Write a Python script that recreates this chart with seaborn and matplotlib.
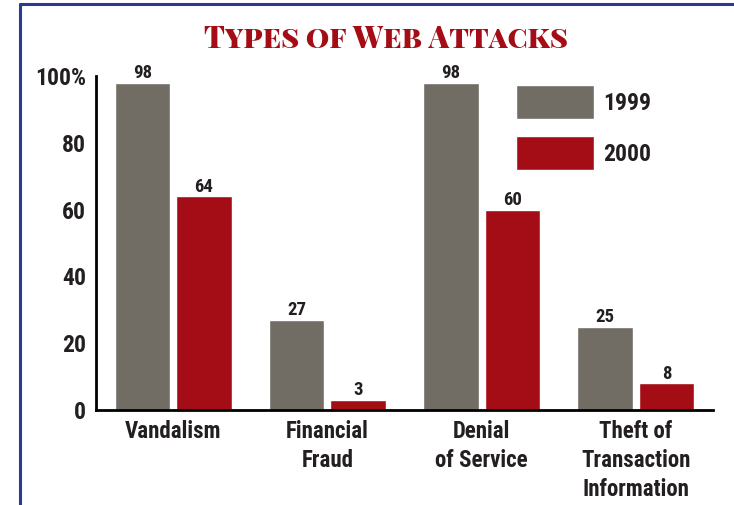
import matplotlib
matplotlib.use("Agg")
import matplotlib.pyplot as plt
from matplotlib import font_manager as fm
from matplotlib.lines import Line2D
import seaborn as sns
import pandas as pd

# Survey results: share of sites reporting each attack type
categories = ["Vandalism", "Financial\nFraud", "Denial\nof Service",
              "Theft of\nTransaction\nInformation"]
years = ["1999", "2000"]
pct_1999 = [98, 27, 98, 25]
pct_2000 = [64, 3, 60, 8]
ytick_values = [0, 20, 40, 60, 80, 100]
ytick_labels = ["0", "20", "40", "60", "80", "100%"]
title = "Types of Web Attacks"

GRAY = "#716d65"
RED = "#a50d16"
NAVY = "#2a3a8c"
INK = "#231f20"

sns.set_theme(style="white")
plt.rcParams["font.family"] = ["Roboto Condensed", "Liberation Sans", "DejaVu Sans"]
plt.rcParams["font.weight"] = "bold"

installed = {f.name for f in fm.fontManager.ttflist}
if "Playfair Display SC" in installed:
    title_family, title_text = "Playfair Display SC", title
else:
    title_family, title_text = "DejaVu Serif", title.upper()

df = pd.DataFrame({
    "attack": categories * 2,
    "year": [years[0]] * 4 + [years[1]] * 4,
    "pct": pct_1999 + pct_2000,
})

fig = plt.figure(figsize=(7.34, 5.05), dpi=100)
ax = fig.add_axes([96 / 734, 1 - 410 / 505, (713 - 96) / 734, (410 - 76) / 505])

sns.barplot(data=df, x="attack", y="pct", hue="year", palette=[GRAY, RED],
            saturation=1, width=0.8, gap=0.1, ax=ax)

ax.set_xlim(-0.5, 3.5)
ax.set_ylim(0, 100)
ax.set_yticks(ytick_values)
ax.set_yticklabels(ytick_labels)
ax.set_xlabel("")
ax.set_ylabel("")
ax.tick_params(axis="both", length=0, colors=INK)
ax.tick_params(axis="y", pad=7, labelsize=17)
ax.tick_params(axis="x", pad=7, labelsize=16.5)
for lbl in ax.get_xticklabels():
    lbl.set_linespacing(1.33)
for lbl in ax.get_xticklabels() + ax.get_yticklabels():
    lbl.set_fontweight("bold")

for side in ("top", "right"):
    ax.spines[side].set_visible(False)
for side in ("left", "bottom"):
    ax.spines[side].set_color("black")
    ax.spines[side].set_linewidth(2)

for cont in ax.containers:
    ax.bar_label(cont, fmt="%d", padding=0.5, fontsize=13.5, fontweight="bold",
                 color=INK)

sns.move_legend(ax, "upper left", bbox_to_anchor=((516 - 96) / 617, (410 - 85) / 334),
                title=None, frameon=False, fontsize=17, handlelength=3.3,
                handleheight=1.85, labelspacing=0.72, handletextpad=0.4,
                borderpad=0, borderaxespad=0)
for t in ax.get_legend().get_texts():
    t.set_fontweight("bold")
    t.set_color(INK)

fig.text(386 / 734, 1 - 48 / 505, title_text, family=title_family, fontsize=21.5,
         fontweight="black", color=RED, ha="center", va="baseline")

# Frame rules along the top and left edges
fig.add_artist(Line2D([20 / 734, 1], [1 - 4 / 505] * 2, color=NAVY, lw=2.2,
                      transform=fig.transFigure))
fig.add_artist(Line2D([20 / 734] * 2, [0, 1 - 4 / 505], color=NAVY, lw=2.2,
                      transform=fig.transFigure))

fig.savefig("out.png", dpi=100)
